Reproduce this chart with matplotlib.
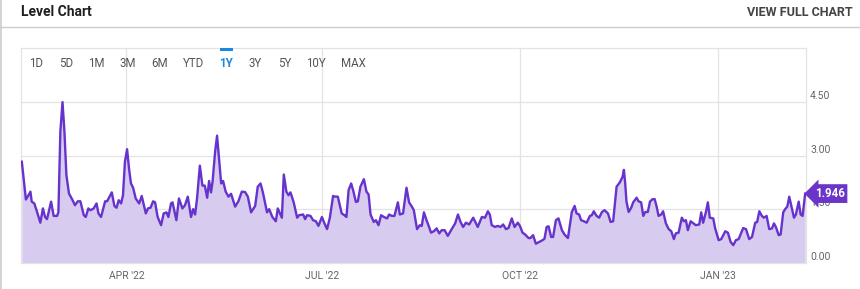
import matplotlib

matplotlib.use("Agg")

import matplotlib.pyplot as plt
import numpy as np
from matplotlib.lines import Line2D
from matplotlib.transforms import blended_transform_factory, offset_copy

plt.rcParams["font.family"] = ["Roboto", "DejaVu Sans"]

# series: days after START and the level value
START = np.datetime64("2022-02-10")
days = [
    1.4, 3.3, 4.5, 5.4, 6.0, 7.2, 8.5, 10.0, 11.2, 12.2, 13.1, 15.0, 16.2, 17.8,
    18.4, 19.3, 20.3, 21.2, 22.1, 23.3, 25.0, 26.1, 27.4, 28.6, 30.2, 31.1, 32.3,
    33.3, 34.8, 36.1, 37.0, 38.2, 40.1, 41.0, 43.2, 44.4, 45.4, 46.4, 47.5, 48.4,
    49.3, 50.3, 51.2, 52.1, 53.1, 54.3, 55.9, 57.1, 59.0, 60.0, 61.2, 62.4, 63.3,
    64.5, 66.1, 67.3, 68.6, 69.5, 70.7, 71.4, 73.2, 74.4, 76.0, 77.2, 78.5, 80.0,
    81.0, 81.9, 82.8, 84.1, 85.3, 86.4, 87.5, 88.4, 89.3, 90.0, 91.2, 92.1, 93.0,
    94.0, 94.9, 96.1, 97.4, 98.6, 100.5, 102.0, 103.6, 105.1, 106.4, 107.9, 109.8,
    111.0, 112.3, 113.5, 115.3, 116.3, 117.8, 119.4, 120.3, 122.2, 123.1, 124.3,
    125.3, 126.2, 127.7, 129.3, 130.2, 132.1, 133.0, 133.9, 135.5, 136.7, 138.0,
    139.2, 140.8, 142.0, 143.2, 144.5, 146.0, 146.9, 148.2, 150.0, 151.3, 152.2,
    153.2, 154.4, 155.3, 156.6, 157.5, 158.7, 160.3, 161.5, 162.5, 163.4, 164.9,
    165.9, 167.1, 168.3, 169.6, 171.1, 172.0, 173.3, 174.5, 176.1, 177.0, 178.5,
    180.1, 181.3, 182.6, 183.5, 185.0, 186.3, 187.2, 188.2, 189.4, 190.3, 191.5,
    192.8, 194.1, 195.3, 196.5, 197.8, 199.3, 200.8, 202.7, 204.0, 205.2, 206.4,
    207.7, 209.2, 211.1, 213.2, 215.1, 216.6, 217.9, 218.8, 219.7, 221.3, 222.5,
    223.8, 225.0, 226.3, 227.5, 229.0, 230.3, 231.8, 232.8, 234.0, 235.2, 236.8,
    237.7, 238.9, 240.2, 241.7, 243.3, 244.2, 245.2, 246.1, 247.3, 248.2, 249.5,
    250.7, 252.3, 253.5, 255.1, 256.3, 256.9, 258.2, 259.1, 260.3, 261.2, 262.5,
    263.8, 265.3, 266.2, 267.1, 268.4, 269.6, 270.9, 272.1, 273.7, 274.9, 276.1,
    277.7, 279.2, 280.5, 281.1, 281.7, 282.3, 283.3, 284.5, 285.4, 287.0, 287.9,
    289.1, 290.1, 291.0, 292.2, 293.2, 294.4, 295.4, 296.3, 297.2, 298.4, 299.3,
    300.6, 301.9, 303.1, 304.3, 305.2, 306.5, 308.0, 309.0, 309.9, 310.8, 312.1,
    313.0, 314.5, 316.1, 317.0, 317.9, 319.2, 320.1, 321.0, 322.6, 323.5, 325.1,
    326.3, 328.2, 329.4, 330.7, 331.9, 333.1, 334.4, 335.3, 336.5, 337.8, 339.3,
    340.6, 342.1, 343.0, 344.0, 345.2, 346.1, 347.4, 348.6, 349.9, 350.8, 351.7,
    353.0, 353.9, 355.1, 356.0, 357.0, 357.9, 358.8, 360.1, 361.0, 362.3, 363.2,
    364.1, 365.3,
]
level = [
    2.84, 1.78, 1.90, 2.00, 1.72, 1.67, 1.43, 1.13, 1.53, 1.29, 1.23, 1.72, 1.32,
    1.32, 1.43, 3.68, 4.51, 3.68, 2.47, 1.95, 1.76, 1.62, 1.73, 1.73, 1.34, 1.29,
    1.53, 1.48, 1.53, 1.67, 1.39, 1.29, 1.73, 1.73, 1.98, 1.60, 1.55, 1.76, 1.67,
    1.90, 2.84, 3.19, 2.65, 2.23, 2.11, 1.81, 1.67, 1.88, 1.39, 1.53, 1.55, 1.73,
    1.70, 1.29, 1.06, 1.39, 1.42, 1.29, 1.67, 1.70, 1.20, 1.81, 1.53, 1.62, 1.86,
    1.29, 1.51, 1.36, 1.81, 2.73, 2.17, 2.17, 1.83, 2.30, 1.98, 2.28, 3.12, 3.57,
    2.95, 2.23, 2.30, 2.00, 1.86, 1.94, 1.58, 1.73, 2.00, 1.99, 1.86, 1.42, 1.60,
    2.14, 2.23, 1.95, 1.42, 1.51, 1.29, 1.17, 1.53, 1.27, 2.48, 2.00, 1.90, 1.98,
    1.70, 1.27, 1.34, 1.36, 1.23, 1.34, 1.32, 1.20, 1.17, 1.04, 1.29, 1.11, 0.95,
    1.27, 1.88, 1.86, 1.86, 1.39, 1.34, 1.29, 2.04, 2.23, 2.04, 1.71, 1.73, 2.14,
    2.35, 2.00, 1.92, 1.36, 1.15, 1.20, 1.06, 1.34, 1.29, 1.25, 1.36, 1.32, 1.32,
    1.70, 1.36, 1.39, 2.11, 1.70, 1.58, 1.48, 0.95, 1.06, 1.04, 1.42, 1.20, 1.06,
    0.85, 0.89, 0.97, 0.83, 0.92, 0.92, 0.76, 0.92, 1.11, 1.36, 1.15, 1.01, 1.13,
    1.08, 1.27, 1.01, 1.29, 1.27, 1.45, 1.36, 1.06, 1.01, 1.04, 1.01, 1.08, 0.95,
    0.98, 1.25, 1.01, 1.13, 1.04, 0.85, 0.80, 0.70, 0.70, 0.78, 0.54, 0.59, 0.64,
    0.68, 1.01, 1.03, 0.73, 0.73, 1.20, 1.25, 0.92, 0.80, 0.70, 1.20, 1.43, 1.60,
    1.39, 1.36, 1.20, 1.17, 1.13, 1.32, 1.34, 1.45, 1.32, 1.27, 1.43, 1.48, 1.39,
    1.15, 1.17, 2.14, 2.26, 2.42, 2.61, 2.23, 1.72, 1.43, 1.55, 1.70, 1.83, 1.73,
    1.70, 1.32, 1.43, 1.43, 1.72, 1.79, 1.79, 1.58, 1.32, 1.36, 1.45, 1.11, 0.95,
    0.89, 0.67, 0.83, 0.85, 1.27, 1.17, 1.20, 0.92, 1.17, 1.13, 1.06, 1.08, 1.42,
    1.13, 1.43, 1.70, 1.27, 1.25, 0.97, 0.64, 0.67, 0.89, 0.85, 0.59, 0.50, 0.64,
    0.67, 0.80, 0.98, 0.95, 0.67, 0.73, 1.13, 1.15, 1.45, 1.32, 1.27, 1.32, 0.95,
    0.97, 1.11, 1.01, 0.78, 0.80, 1.42, 1.51, 1.58, 1.86, 1.62, 1.27, 1.36, 1.72,
    1.36, 1.32, 1.946,
]
y_ticks = [0.0, 1.5, 3.0, 4.5]
x_tick_dates = ["2022-04-01", "2022-07-01", "2022-10-01", "2023-01-01"]
x_tick_labels = ["APR '22", "JUL '22", "OCT '22", "JAN '23"]
ranges = ["1D", "5D", "1M", "3M", "6M", "YTD", "1Y", "3Y", "5Y", "10Y", "MAX"]
active_range = "1Y"
last_label = "1.946"

W, H = 860, 289
LINE = "#6633cc"
FILL = "#d7cbf0"
GRID = "#e3e3e3"


def fx(px):
    return px / W


def fy(py):
    return 1 - py / H


minutes = (np.asarray(days) * 24 * 60).round().astype("timedelta64[m]")
dates = (START + minutes).astype("datetime64[m]").astype(object)

fig = plt.figure(figsize=(W / 100, H / 100), dpi=100)
fig.patch.set_facecolor("white")

ax = fig.add_axes([fx(21), fy(263), fx(805.6 - 21), (263 - 48) / H])
ax.fill_between(dates, level, 0, color=FILL, lw=0, zorder=1)
ax.plot(dates, level, color=LINE, lw=1.7, solid_joinstyle="round", zorder=3)

x0 = (START + np.timedelta64(int(1.02 * 24 * 60), "m")).astype(object)
x1 = (START + np.timedelta64(int(365.5 * 24 * 60), "m")).astype(object)
ax.set_xlim(x0, x1)
ax.set_ylim(0, 215 / 35.67)

ax.set_yticks(y_ticks)
ax.set_yticklabels([])
ax.set_xticks([np.datetime64(d).astype(object) for d in x_tick_dates])
ax.set_xticklabels(x_tick_labels, fontsize=7.5, color="#666666")
ax.tick_params(axis="both", length=0, pad=6)
ax.grid(True, color=GRID, lw=0.9, zorder=0)
ax.set_axisbelow(True)
for spine in ax.spines.values():
    spine.set_color(GRID)
    spine.set_linewidth(0.9)

# right-hand value labels, sitting a little above their grid lines
trans = blended_transform_factory(ax.transAxes, ax.transData)
lab_trans = offset_copy(trans, fig=fig, x=4.5, y=6, units="dots")
for v in y_ticks:
    ax.text(1.0, v, f"{v:.2f}", transform=lab_trans, ha="left", va="center",
            fontsize=7.5, color="#666666", clip_on=False)

badge_trans = offset_copy(trans, fig=fig, x=9, y=0, units="dots")
ax.text(1.0, level[-1], last_label, transform=badge_trans, ha="left",
        va="center", fontsize=8.3, fontweight="bold", color="white",
        clip_on=False, zorder=10,
        bbox=dict(boxstyle="larrow,pad=0.25", fc="#6a35c8", ec="none"))

# range selector
range_x = [35.7, 65.7, 96, 127.3, 159.3, 193.3, 226.3, 255.3, 284.3, 316, 353.3]
for label, px in zip(ranges, range_x):
    active = label == active_range
    fig.text(fx(px), fy(63.3), label, ha="center", va="center", fontsize=8.3,
             color="#1a88e0" if active else "#555555",
             fontweight="bold" if active else "normal")
fig.patches.append(plt.Rectangle((fx(220), fy(50.7)), fx(12.7), 2.4 / H,
                                 transform=fig.transFigure, fc="#1a88e0",
                                 ec="none"))

# card header
fig.text(fx(21), fy(12.5), "Level Chart", ha="left", va="center",
         fontsize=10, fontweight="bold", color="#1f1f1f")
fig.text(fx(853), fy(13), "VIEW FULL CHART", ha="right", va="center",
         fontsize=9, fontweight="bold", color="#444444")
fig.add_artist(Line2D([0, 1], [fy(27), fy(27)], color="#cccccc", lw=1,
                      transform=fig.transFigure))
fig.add_artist(Line2D([fx(1), fx(1)], [0, 1], color="#cccccc", lw=1.2,
                      transform=fig.transFigure))

fig.savefig("out.png", dpi=100)
